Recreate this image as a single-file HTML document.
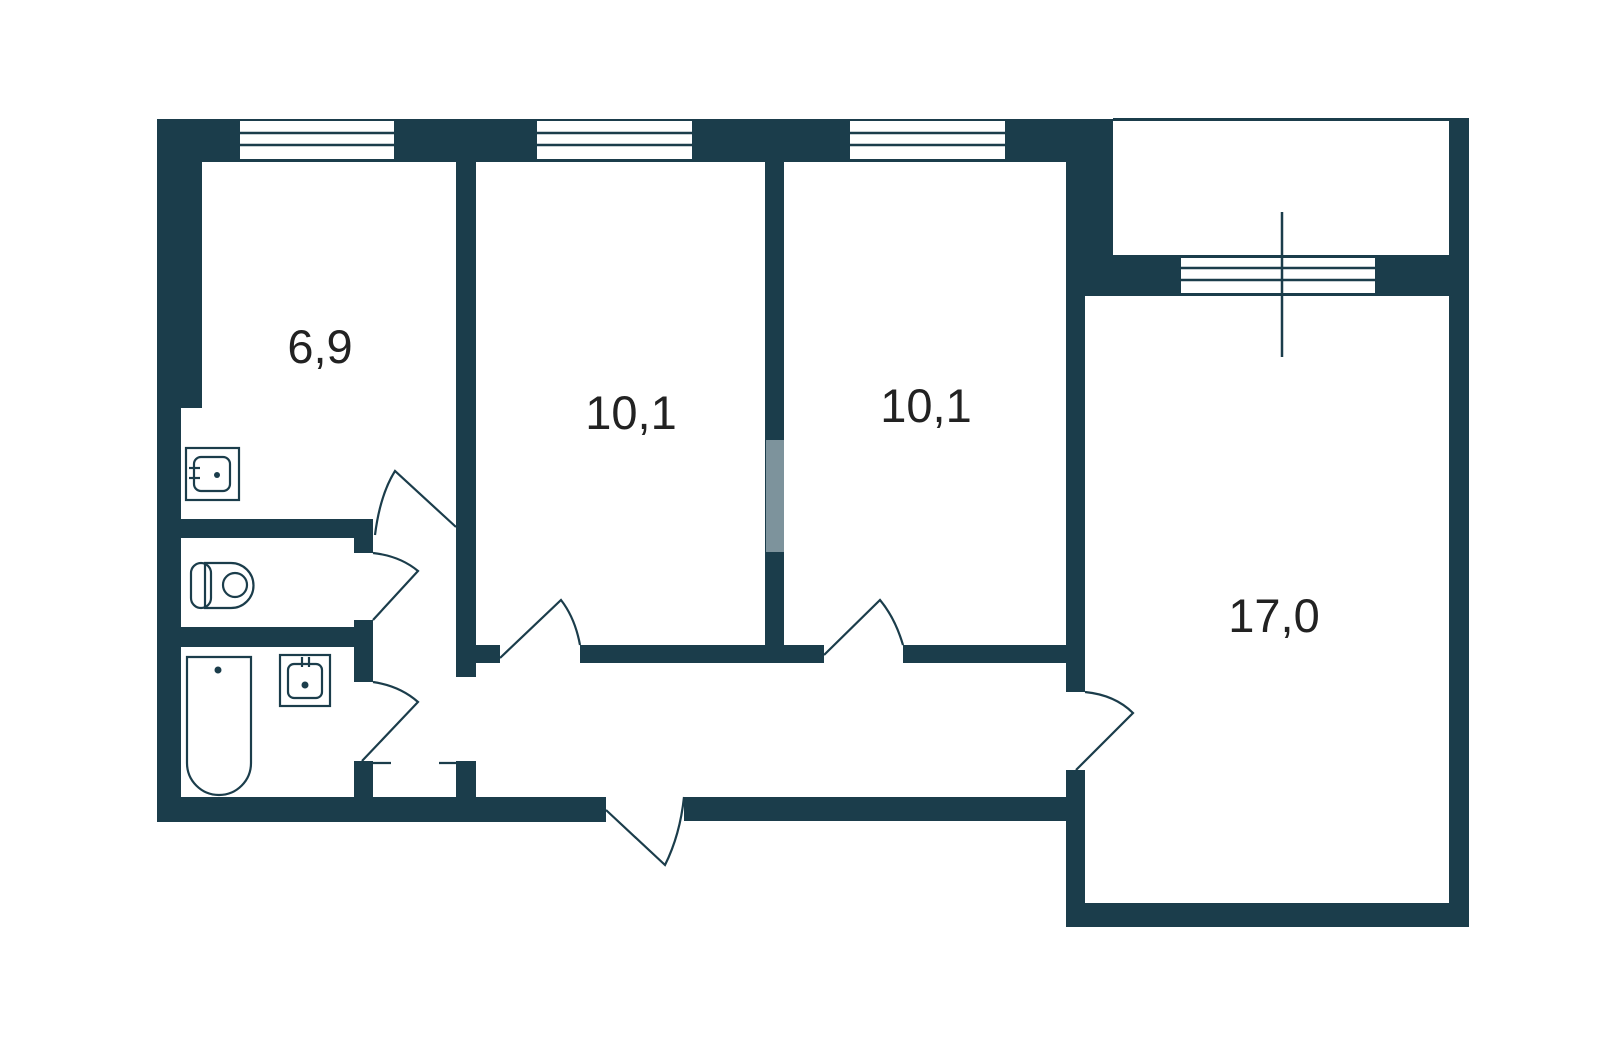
<!DOCTYPE html>
<html><head><meta charset="utf-8"><style>
html,body{margin:0;padding:0;background:#fff;}
svg{display:block;}
text{font-family:"Liberation Sans",sans-serif;fill:#222;}
</style></head><body>
<svg width="1600" height="1039" viewBox="0 0 1600 1039" xmlns="http://www.w3.org/2000/svg">
<g fill="#1b3d4b">
<rect x="157" y="119" width="956" height="43"/>
<rect x="157" y="119" width="45" height="289"/>
<rect x="157" y="119" width="24" height="703"/>
<rect x="157" y="797" width="449" height="25"/>
<rect x="684" y="797" width="382" height="24"/>
<rect x="456" y="162" width="20" height="515"/>
<rect x="456" y="645" width="44" height="18"/>
<rect x="456" y="761" width="20" height="37"/>
<rect x="181" y="519" width="192" height="19"/>
<rect x="354" y="519" width="19" height="34"/>
<rect x="181" y="627" width="192" height="20"/>
<rect x="354" y="620" width="19" height="62"/>
<rect x="354" y="761" width="19" height="37"/>
<rect x="580" y="645" width="204" height="18"/>
<rect x="765" y="162" width="19" height="501"/>
<rect x="765" y="645" width="59" height="18"/>
<rect x="903" y="645" width="182" height="18"/>
<rect x="1066" y="119" width="47" height="177"/>
<rect x="1066" y="119" width="19" height="573"/>
<rect x="1066" y="770" width="19" height="157"/>
<rect x="1066" y="255" width="403" height="41"/>
<rect x="1449" y="119" width="20" height="808"/>
<rect x="1066" y="903" width="403" height="24"/>
<rect x="1113" y="118" width="356" height="3"/>
</g>
<rect x="766" y="440" width="18" height="112" fill="#7d939c"/>
<g fill="#fff" stroke="#1b3d4b" stroke-width="2.5">
<rect x="240" y="121" width="154" height="38" stroke="none"/>
<line x1="240" y1="133" x2="394" y2="133"/><line x1="240" y1="145" x2="394" y2="145"/>
<rect x="537" y="121" width="155" height="38" stroke="none"/>
<line x1="537" y1="133" x2="692" y2="133"/><line x1="537" y1="145" x2="692" y2="145"/>
<rect x="850" y="121" width="155" height="38" stroke="none"/>
<line x1="850" y1="133" x2="1005" y2="133"/><line x1="850" y1="145" x2="1005" y2="145"/>
<rect x="1181" y="258" width="194" height="35" stroke="none"/>
<line x1="1181" y1="268" x2="1375" y2="268"/><line x1="1181" y1="280" x2="1375" y2="280"/>
</g>
<line x1="1282" y1="212" x2="1282" y2="357" stroke="#1b3d4b" stroke-width="2.5"/>
<g fill="none" stroke="#1b3d4b" stroke-width="2.2">
<path d="M375 535 Q380 495 395 471 L456 527"/>
<path d="M373 553 Q400 556 418 571 L373 620"/>
<path d="M373 682 Q400 686 418 702 L362 761"/>
<path d="M500 658 L561 600 Q575 618 580 645"/>
<path d="M824 655 L880 600 Q895 618 903 645"/>
<path d="M1085 692 Q1115 695 1133 713 L1076 770"/>
<path d="M606 810 L665 865 Q680 835 684 797"/>
<line x1="373" y1="763" x2="391" y2="763"/><line x1="439" y1="763" x2="456" y2="763"/>
<rect x="186" y="448" width="53" height="52"/>
<rect x="194" y="457" width="36" height="34" rx="7"/>
<line x1="189" y1="468" x2="200" y2="468"/><line x1="189" y1="478" x2="200" y2="478"/>
<path d="M205 563 H231 A22.5 22.5 0 0 1 231 608 H205 Z"/>
<rect x="191" y="563" width="20" height="45" rx="10"/>
<circle cx="235" cy="585" r="12"/>
<path d="M187 657 H251 V763 A32 32 0 0 1 187 763 Z"/>
<rect x="280" y="655" width="50" height="51"/>
<rect x="288" y="664" width="34" height="34" rx="6"/>
<line x1="302" y1="657" x2="302" y2="667"/><line x1="309" y1="657" x2="309" y2="667"/>
</g>
<g fill="#1b3d4b">
<circle cx="217" cy="475" r="3"/>
<circle cx="218" cy="670" r="3.5"/>
<circle cx="305" cy="685" r="3.5"/>
</g>
<text x="320" y="363" font-size="47" text-anchor="middle">6,9</text>
<text x="631" y="429" font-size="47" text-anchor="middle">10,1</text>
<text x="926" y="422" font-size="47" text-anchor="middle">10,1</text>
<text x="1274" y="632" font-size="47" text-anchor="middle">17,0</text>
</svg>
</body></html>
